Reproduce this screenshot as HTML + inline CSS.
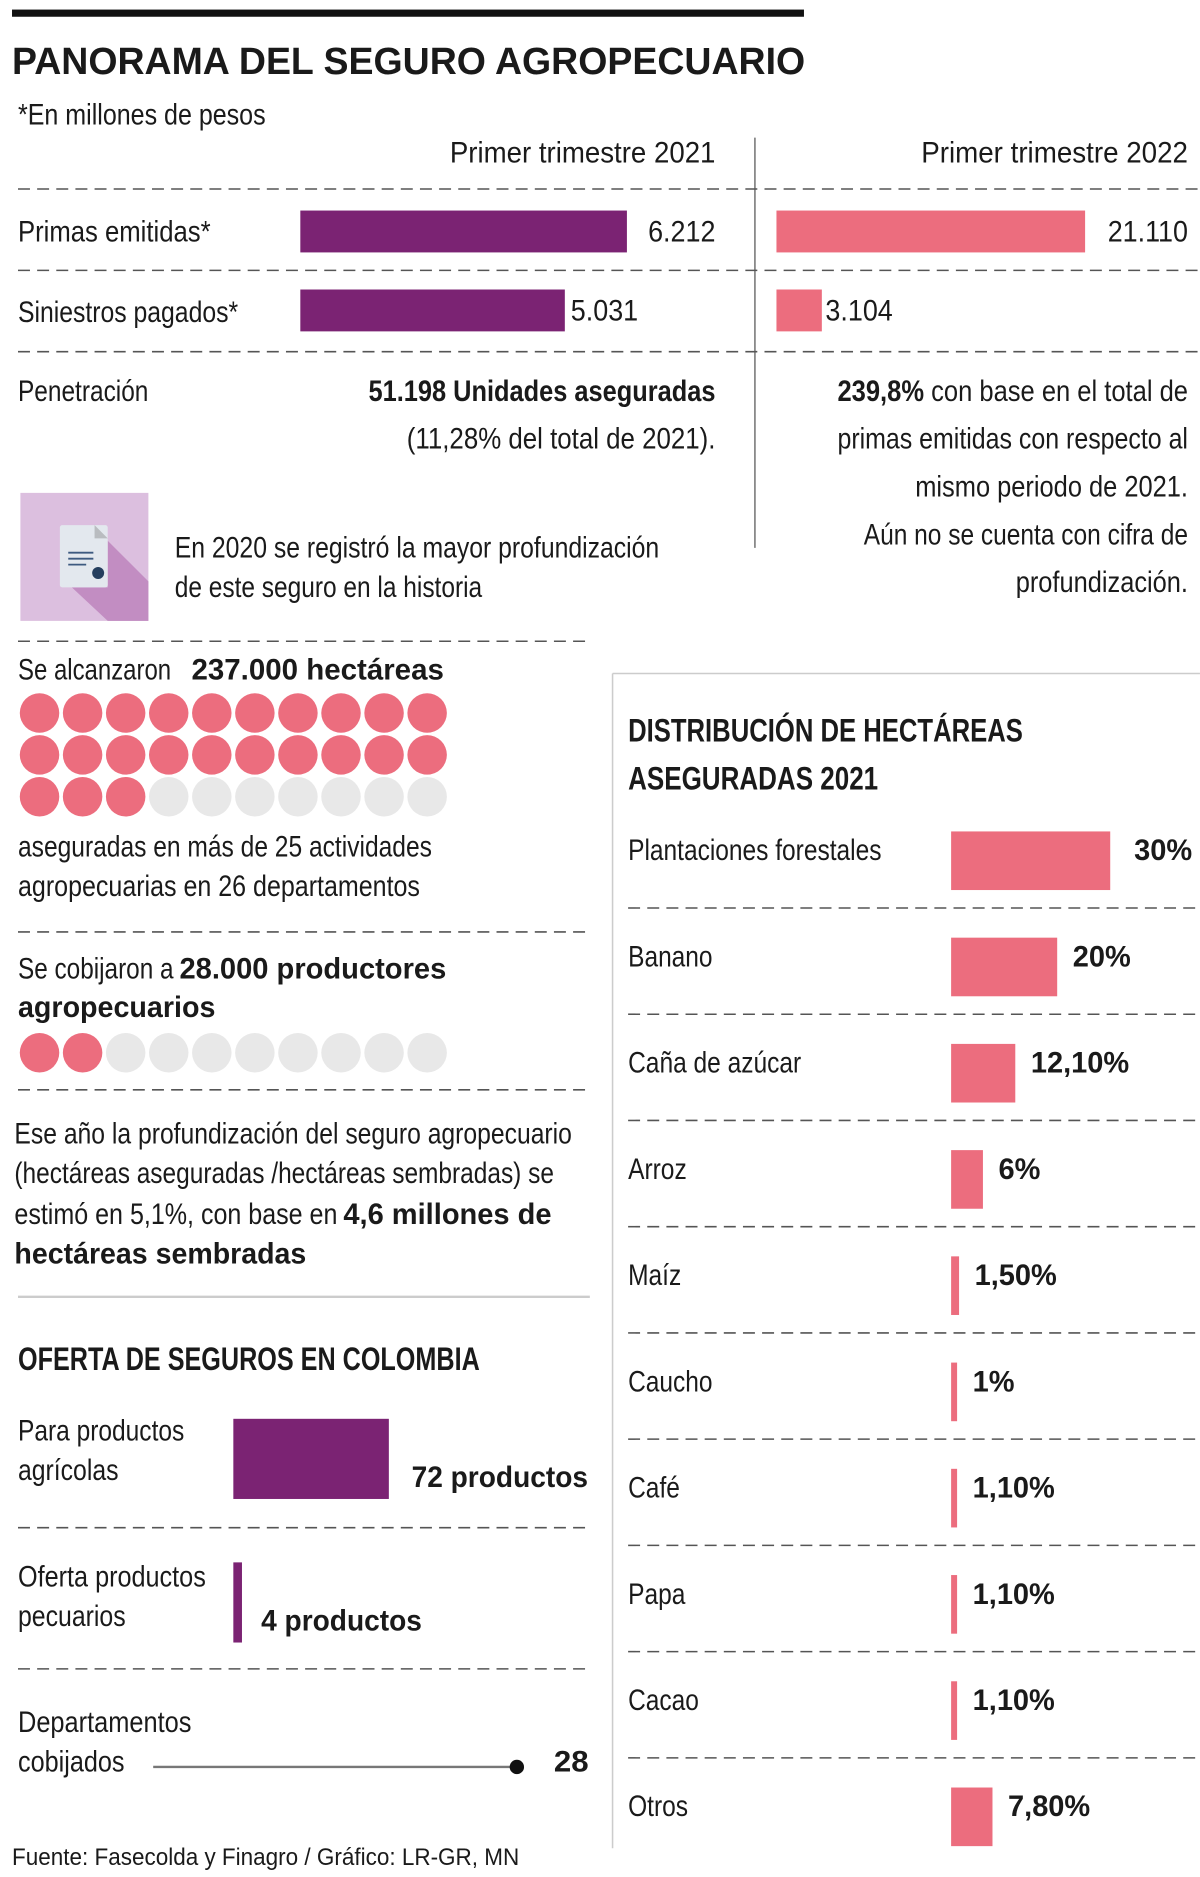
<!DOCTYPE html>
<html><head><meta charset="utf-8">
<style>
html,body{margin:0;padding:0;background:#fff;width:1200px;height:1877px;overflow:hidden}
svg{display:block}
text{font-family:"Liberation Sans",sans-serif;fill:#1a1a1a}
.n{font-size:25px}
.b{font-size:25px;font-weight:bold}
.d{stroke:#555;stroke-width:1.3;stroke-dasharray:10 6;fill:none}
</style></head>
<body>
<svg id="chart" width="1200" height="1877" viewBox="0 0 1003 1569">
  <rect x="10" y="8" width="662" height="6" fill="#111"/>
  <text x="10" y="62" font-size="32" font-weight="bold" textLength="663" lengthAdjust="spacingAndGlyphs">PANORAMA DEL SEGURO AGROPECUARIO</text>
  <text class="n" x="15" y="104" textLength="207" lengthAdjust="spacingAndGlyphs">*En millones de pesos</text>
  <text class="n" x="376" y="136" font-size="27" textLength="222" lengthAdjust="spacingAndGlyphs">Primer trimestre 2021</text>
  <text class="n" x="770" y="136" font-size="27" textLength="223" lengthAdjust="spacingAndGlyphs">Primer trimestre 2022</text>
  <line x1="631" y1="115" x2="631" y2="458" stroke="#777" stroke-width="1.3"/>
  <line class="d" x1="15" y1="158" x2="1003" y2="158"/>
  <line class="d" x1="15" y1="226" x2="1003" y2="226"/>
  <line class="d" x1="15" y1="294" x2="1003" y2="294"/>
  <text class="n" x="15" y="202" textLength="161" lengthAdjust="spacingAndGlyphs">Primas emitidas*</text>
  <text class="n" x="15" y="269" textLength="184" lengthAdjust="spacingAndGlyphs">Siniestros pagados*</text>
  <g id="topbars"></g>
  <text class="n" x="15" y="335" textLength="109" lengthAdjust="spacingAndGlyphs">Penetración</text>
  <text class="b" x="598" y="335" text-anchor="end" textLength="290" lengthAdjust="spacingAndGlyphs">51.198 Unidades aseguradas</text>
  <text class="n" x="598" y="375" text-anchor="end" textLength="258" lengthAdjust="spacingAndGlyphs">(11,28% del total de 2021).</text>
  <g>
    <text class="n" x="993" y="335" text-anchor="end" textLength="293" lengthAdjust="spacingAndGlyphs"><tspan font-weight="bold">239,8%</tspan> con base en el total de</text>
    <text class="n" x="993" y="375" text-anchor="end" textLength="293" lengthAdjust="spacingAndGlyphs">primas emitidas con respecto al</text>
    <text class="n" x="993" y="415" text-anchor="end" textLength="228" lengthAdjust="spacingAndGlyphs">mismo periodo de 2021.</text>
    <text class="n" x="993" y="455" text-anchor="end" textLength="271" lengthAdjust="spacingAndGlyphs">Aún no se cuenta con cifra de</text>
    <text class="n" x="993" y="495" text-anchor="end" textLength="144" lengthAdjust="spacingAndGlyphs">profundización.</text>
  </g>
  <g>
    <rect x="17" y="412" width="107" height="107" fill="#DCBFDF"/>
    <polygon points="90,452 124,486 124,519 90,519 60,491 90,491" fill="#C28DC2"/>
    <rect x="50" y="439" width="40" height="52" rx="2" fill="#E3E8EE"/>
    <polygon points="79,439 90,450 79,450" fill="#B9BCC0"/>
    <line x1="57" y1="462" x2="78" y2="462" stroke="#3D5A80" stroke-width="1.5"/>
    <line x1="57" y1="467" x2="78" y2="467" stroke="#3D5A80" stroke-width="1.5"/>
    <line x1="57" y1="472" x2="72" y2="472" stroke="#3D5A80" stroke-width="1.5"/>
    <circle cx="82" cy="479" r="5" fill="#253E5E"/>
  </g>
  <text class="n" x="146" y="466" textLength="405" lengthAdjust="spacingAndGlyphs">En 2020 se registró la mayor profundización</text>
  <text class="n" x="146" y="499" textLength="257" lengthAdjust="spacingAndGlyphs">de este seguro en la historia</text>
  <line class="d" x1="15" y1="536" x2="490" y2="536"/>
  <text class="n" x="15" y="568" textLength="128" lengthAdjust="spacingAndGlyphs">Se alcanzaron</text>
  <text class="b" x="160" y="568" textLength="211" lengthAdjust="spacingAndGlyphs">237.000 hectáreas</text>
  <g id="dots1"></g>
  <text class="n" x="15" y="716" textLength="346" lengthAdjust="spacingAndGlyphs">aseguradas en más de 25 actividades</text>
  <text class="n" x="15" y="749" textLength="336" lengthAdjust="spacingAndGlyphs">agropecuarias en 26 departamentos</text>
  <line class="d" x1="15" y1="779" x2="490" y2="779"/>
  <text class="n" x="15" y="818" textLength="130" lengthAdjust="spacingAndGlyphs">Se cobijaron a</text>
  <text class="b" x="150" y="818" textLength="223" lengthAdjust="spacingAndGlyphs">28.000 productores</text>
  <text class="b" x="15" y="850" textLength="165" lengthAdjust="spacingAndGlyphs">agropecuarios</text>
  <g id="dots2"></g>
  <line class="d" x1="15" y1="911" x2="490" y2="911"/>
  <g>
    <text class="n" x="12" y="956" textLength="466" lengthAdjust="spacingAndGlyphs">Ese año la profundización del seguro agropecuario</text>
    <text class="n" x="12" y="989" textLength="451" lengthAdjust="spacingAndGlyphs">(hectáreas aseguradas /hectáreas sembradas) se</text>
    <text class="n" x="12" y="1023" textLength="270" lengthAdjust="spacingAndGlyphs">estimó en 5,1%, con base en</text>
    <text class="b" x="287" y="1023" textLength="174" lengthAdjust="spacingAndGlyphs">4,6 millones de</text>
    <text class="b" x="12" y="1056" textLength="244" lengthAdjust="spacingAndGlyphs">hectáreas sembradas</text>
  </g>
  <line x1="15" y1="1084" x2="493" y2="1084" stroke="#ccc" stroke-width="2"/>
  <text x="15" y="1145" font-size="27" font-weight="bold" textLength="386" lengthAdjust="spacingAndGlyphs">OFERTA DE SEGUROS EN COLOMBIA</text>
  <text class="n" x="15" y="1204" textLength="139" lengthAdjust="spacingAndGlyphs">Para productos</text>
  <text class="n" x="15" y="1237" textLength="84" lengthAdjust="spacingAndGlyphs">agrícolas</text>
  <g id="oferta"></g>
  <line class="d" x1="15" y1="1277" x2="490" y2="1277"/>
  <text class="n" x="15" y="1326" textLength="157" lengthAdjust="spacingAndGlyphs">Oferta productos</text>
  <text class="n" x="15" y="1359" textLength="90" lengthAdjust="spacingAndGlyphs">pecuarios</text>
  <line class="d" x1="15" y1="1395" x2="490" y2="1395"/>
  <text class="n" x="15" y="1448" textLength="145" lengthAdjust="spacingAndGlyphs">Departamentos</text>
  <text class="n" x="15" y="1481" textLength="89" lengthAdjust="spacingAndGlyphs">cobijados</text>
  <line x1="128" y1="1477" x2="430" y2="1477" stroke="#777" stroke-width="2"/>
  <circle cx="432" cy="1477" r="6" fill="#111"/>
  <text class="b" x="463" y="1481" font-size="27" textLength="29" lengthAdjust="spacingAndGlyphs">28</text>
  <text x="10" y="1559" font-size="20" fill="#333" textLength="424" lengthAdjust="spacingAndGlyphs">Fuente: Fasecolda y Finagro / Gráfico: LR-GR, MN</text>

  <line x1="512" y1="563" x2="512" y2="1545" stroke="#ccc" stroke-width="1.3"/>
  <line x1="512" y1="563" x2="1003" y2="563" stroke="#ccc" stroke-width="1.3"/>
  <text x="525" y="620" font-size="27" font-weight="bold" textLength="330" lengthAdjust="spacingAndGlyphs">DISTRIBUCIÓN DE HECTÁREAS</text>
  <text x="525" y="660" font-size="27" font-weight="bold" textLength="209" lengthAdjust="spacingAndGlyphs">ASEGURADAS 2021</text>
  <g id="dist"></g>
</svg>
<script>
const NS = "http://www.w3.org/2000/svg";
// top comparison
const topRows = ["Primas emitidas", "Siniestros pagados"];
const values2021 = [6212, 5031];
const values2022 = [21110, 3104];
const labels2021 = ["6.212", "5.031"];
const labels2022 = ["21.110", "3.104"];
// dots
const hectareasDots = 23;
const productoresDots = 2;
// oferta
const ofertaCats = ["agricolas", "pecuarios"];
const ofertaValues = [72, 4];
const ofertaLabels = ["72 productos", "4 productos"];
// distribution
const distCats = ["Plantaciones forestales","Banano","Caña de azúcar","Arroz","Maíz","Caucho","Café","Papa","Cacao","Otros"];
const distValues = [30, 20, 12.1, 6, 1.5, 1, 1.1, 1.1, 1.1, 7.8];
const distLabels = ["30%","20%","12,10%","6%","1,50%","1%","1,10%","1,10%","1,10%","7,80%"];

function mk(tag, attrs, parent){const e=document.createElementNS(NS,tag);for(const k in attrs)e.setAttribute(k,attrs[k]);parent.appendChild(e);return e;}
function condense(el, f){
  const w = el.getComputedTextLength();
  if (w > 0) { el.setAttribute("textLength", (w*f).toFixed(1)); el.setAttribute("lengthAdjust","spacingAndGlyphs"); }
}

const tb = document.getElementById("topbars");
const x2021 = v => v / 6212 * 273;
const x2022 = v => v / 21110 * 258;
const topRowY = [176, 242];
topRows.forEach((r,i)=>{
  const w1 = x2021(values2021[i]);
  const b1 = mk("rect",{x:251,y:topRowY[i],width:w1,height:35,fill:"#7B2373"},tb);
  
  
  const t1 = mk("text",{class:"n",x: i===0?598:251+w1+5,y:topRowY[i]+26,"text-anchor":i===0?"end":"start"},tb);
  t1.textContent = labels2021[i];
  
  
  condense(t1, 0.9);
  const w2 = x2022(values2022[i]);
  const b2 = mk("rect",{x:649,y:topRowY[i],width:w2,height:35,fill:"#EC6D7E"},tb);
  
  
  const t2 = mk("text",{class:"n",x: i===0?993:649+w2+3,y:topRowY[i]+26,"text-anchor":i===0?"end":"start"},tb);
  t2.textContent = labels2022[i];
  
  
  condense(t2, 0.9);
});

function dots(id, total, count, y0){
  const g = document.getElementById(id);
  for(let k=0;k<total;k++){
    const c = mk("circle",{cx:33+(k%10)*36,cy:y0+Math.floor(k/10)*35,r:16.5,fill:k<count?"#EC6D7E":"#E8E8E8"},g);
    
    
  }
}
dots("dots1", 30, hectareasDots, 596);
dots("dots2", 10, productoresDots, 880);

const og = document.getElementById("oferta");
const ofY = [1186, 1306];
const ofScale = v => Math.max(6, v / 72 * 130);
ofertaCats.forEach((c,i)=>{
  const w = ofScale(ofertaValues[i]);
  const r = mk("rect",{x:195,y:ofY[i],width:w,height:67,fill:"#7B2373"},og);
  
  
  const t = mk("text",{class:"b",x:195+w+(i===0?19:16),y:ofY[i]+57,"font-size":27},og);
  t.textContent = ofertaLabels[i];
  
  
  condense(t, 0.94);
});

const dg = document.getElementById("dist");
const xs = v => v / 30 * 133;
const rowH = 88.8;
distCats.forEach((c,i)=>{
  const top = 695 + i*rowH;
  const lab = mk("text",{class:"n",x:525,y:top+24},dg);
  lab.textContent = c;
  
  
  condense(lab, 0.82);
  const w = Math.max(5, xs(distValues[i]));
  const r = mk("rect",{x:795,y:top,width:w,height:49,fill:"#EC6D7E"},dg);
  
  
  const v = mk("text",{class:"b",x:795+w+(w>100?20:13),y:top+24},dg);
  v.textContent = distLabels[i];
  
  
  condense(v, 0.97);
  if(i<distCats.length-1){
    const l = mk("line",{class:"d",x1:525,y1:top+64,x2:1003,y2:top+64},dg);
    
    
  }
});
</script>
</body></html>
